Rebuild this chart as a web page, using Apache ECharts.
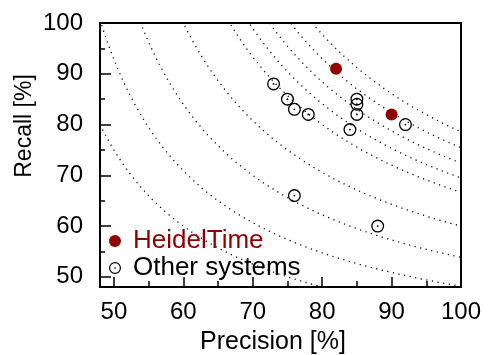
<!DOCTYPE html>
<html>
<head>
<meta charset="utf-8">
<script src="https://cdn.jsdelivr.net/npm/echarts@6/dist/echarts.min.js"></script>
<style>
html,body{margin:0;padding:0;background:#fff;}
#chart{width:497px;height:355px;}
</style>
</head>
<body>
<div id="chart"></div>
<script>
// ---- data ----
const precisionTicks = [50, 60, 70, 80, 90, 100];
const precisionMinorTicks = [55, 65, 75, 85, 95];
const recallTicks = [50, 60, 70, 80, 90, 100];
const recallMinorTicks = [55, 65, 75, 85, 95];
const heidelTime = [[82, 91], [90, 82]];
const otherSystems = [[73, 88], [75, 85], [76, 83], [78, 82], [85, 85], [85, 84], [85, 82], [84, 79], [92, 80], [76, 66], [88, 60]];
const f1Levels = [60, 65, 70, 75, 80, 82, 84, 86, 88];
const axisMin = 48, axisMax = 100;

const FONT = '"Liberation Sans", Arial, Helvetica, sans-serif';
const RED = '#8f0000';

// F1 iso-curve: R = F*P / (2P - F)
function isoCurve(F) {
  const pts = [];
  for (let p = axisMin; p <= axisMax + 1e-9; p += 0.25) {
    const r = F * p / (2 * p - F);
    if (r > 0 && r <= axisMax + 2 && r >= axisMin - 2) pts.push([p, r]);
  }
  return pts;
}

// ring + center dot path
const ringPath = 'path://M50 0A50 50 0 1 1 50 100A50 50 0 1 1 50 0ZM50 10A40 40 0 1 0 50 90A40 40 0 1 0 50 10ZM50 43A7 7 0 1 1 50 57A7 7 0 1 1 50 43Z';

const gridRect = {left: 100, top: 23, right: 36, bottom: 68};

const series = [];
f1Levels.forEach(F => {
  series.push({
    name: 'F1 ' + F, type: 'line', data: isoCurve(F), showSymbol: false, silent: true,
    lineStyle: {color: '#000', width: 1.3, type: [1.2, 4.5]}, z: 1, animation: false
  });
});
series.push({
  name: 'Other systems', type: 'scatter', data: otherSystems, symbol: ringPath, symbolSize: 13,
  itemStyle: {color: '#000', opacity: 1}, z: 3, animation: false
});
series.push({
  name: 'HeidelTime', type: 'scatter', data: heidelTime, symbol: 'circle', symbolSize: 12,
  itemStyle: {color: RED, opacity: 1}, z: 4, animation: false
});

const option = {
  animation: false,
  backgroundColor: '#fff',
  grid: [
    Object.assign({show: true, borderColor: '#000', borderWidth: 2, backgroundColor: 'transparent'}, gridRect),
    Object.assign({show: false}, gridRect)
  ],
  xAxis: [{
    type: 'value', gridIndex: 0, min: axisMin, max: axisMax,
    axisLine: {show: false}, splitLine: {show: false},
    axisTick: {show: true, inside: true, length: 10, customValues: precisionTicks, lineStyle: {color: '#000', width: 1.5}},
    axisLabel: {show: true, customValues: precisionTicks, margin: 13, color: '#000', fontSize: 24, fontFamily: FONT}
  }, {
    type: 'value', gridIndex: 1, min: axisMin, max: axisMax,
    axisLine: {show: false}, splitLine: {show: false}, axisLabel: {show: false},
    axisTick: {show: true, inside: true, length: 6, customValues: precisionMinorTicks, lineStyle: {color: '#000', width: 1.5}}
  }],
  yAxis: [{
    type: 'value', gridIndex: 0, min: axisMin, max: axisMax,
    axisLine: {show: false}, splitLine: {show: false},
    axisTick: {show: true, inside: true, length: 11, customValues: recallTicks, lineStyle: {color: '#000', width: 1.5}},
    axisLabel: {show: true, customValues: recallTicks, margin: 17, color: '#000', fontSize: 24, fontFamily: FONT}
  }, {
    type: 'value', gridIndex: 1, min: axisMin, max: axisMax,
    axisLine: {show: false}, splitLine: {show: false}, axisLabel: {show: false},
    axisTick: {show: true, inside: true, length: 5, customValues: recallMinorTicks, lineStyle: {color: '#000', width: 1.5}}
  }],
  legend: {
    orient: 'vertical', left: 109, top: 228, padding: 0, itemWidth: 12, itemHeight: 12, itemGap: 1,
    selectedMode: false,
    textStyle: {fontSize: 26, fontFamily: FONT, padding: [0, 0, 0, 7]},
    data: [
      {name: 'HeidelTime', icon: 'circle', textStyle: {color: RED}},
      {name: 'Other systems', icon: ringPath, textStyle: {color: '#000'}}
    ]
  },
  graphic: [
    {type: 'text', x: 273, y: 342.5, z: 10,
     style: {text: 'Precision [%]', fill: '#000', font: '25px ' + FONT, align: 'center', verticalAlign: 'middle'}},
    {type: 'text', x: 25, y: 126, rotation: Math.PI / 2, z: 10,
     style: {text: 'Recall [%]', fill: '#000', font: '23px ' + FONT, align: 'center', verticalAlign: 'middle'}}
  ],
  series: series
};

const chart = echarts.init(document.getElementById('chart'), null, {renderer: 'canvas'});
chart.setOption(option);
</script>
</body>
</html>
